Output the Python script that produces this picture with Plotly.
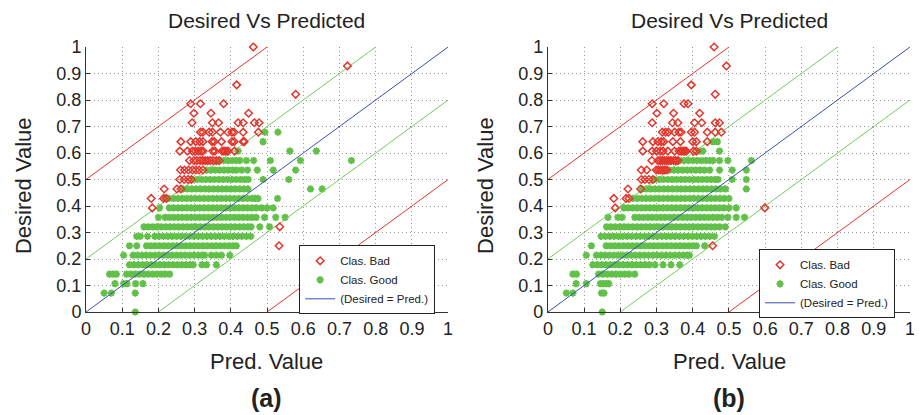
import plotly.graph_objects as go

# ---------------- data ----------------
# Desired-value levels (rows) used by both panels
levels = {0: 0.0, 2: 0.0714, 3: 0.1071, 4: 0.1429, 5: 0.1786, 6: 0.2143, 7: 0.25,
          8: 0.2857, 9: 0.3214, 10: 0.3571, 11: 0.3929, 12: 0.4286, 13: 0.4643,
          14: 0.5, 15: 0.5357, 16: 0.5714, 17: 0.6071, 18: 0.6429, 19: 0.6786,
          20: 0.7143, 21: 0.75, 22: 0.7857, 23: 0.8214, 24: 0.8571, 26: 0.9286, 28: 1.0}

# Panel (a) – "Clas. Good" predicted values, per desired level
a_good_k = [0, 2, 3, 4, 5, 6, 7, 8, 9, 10, 11, 12, 13, 14, 15, 16, 17, 18, 19]
a_good_x = [
    [0.136],
    [0.05, 0.07, 0.136],
    [0.08, 0.104, 0.113, 0.137, 0.157],
    [0.065, 0.075, 0.084, 0.112, 0.124, 0.136, 0.148, 0.16, 0.172, 0.184, 0.196, 0.208, 0.218, 0.231],
    [0.12, 0.132, 0.144, 0.156, 0.168, 0.18, 0.192, 0.204, 0.216, 0.228, 0.24, 0.252, 0.264, 0.276, 0.287, 0.296, 0.32, 0.333, 0.36],
    [0.104, 0.13, 0.142, 0.154, 0.166, 0.178, 0.19, 0.202, 0.214, 0.226, 0.238, 0.25, 0.262, 0.274, 0.286, 0.298, 0.31, 0.32, 0.328, 0.346, 0.36, 0.374, 0.397],
    [0.12, 0.14, 0.167, 0.179, 0.191, 0.203, 0.215, 0.227, 0.239, 0.251, 0.263, 0.275, 0.287, 0.299, 0.311, 0.323, 0.335, 0.347, 0.359, 0.371, 0.383, 0.395, 0.405, 0.415],
    [0.14, 0.15, 0.17, 0.19, 0.202, 0.214, 0.226, 0.238, 0.25, 0.262, 0.274, 0.286, 0.298, 0.31, 0.322, 0.334, 0.346, 0.358, 0.37, 0.382, 0.394, 0.406, 0.418, 0.43, 0.443, 0.455],
    [0.16, 0.172, 0.184, 0.196, 0.208, 0.22, 0.232, 0.244, 0.256, 0.268, 0.28, 0.292, 0.304, 0.316, 0.328, 0.34, 0.352, 0.364, 0.376, 0.388, 0.4, 0.412, 0.424, 0.436, 0.447, 0.456, 0.48, 0.507],
    [0.2, 0.218, 0.23, 0.242, 0.254, 0.266, 0.278, 0.29, 0.302, 0.314, 0.326, 0.338, 0.35, 0.362, 0.374, 0.386, 0.398, 0.41, 0.422, 0.434, 0.446, 0.458, 0.47, 0.493, 0.524, 0.55],
    [0.203, 0.23, 0.242, 0.254, 0.266, 0.278, 0.29, 0.302, 0.314, 0.326, 0.338, 0.35, 0.362, 0.374, 0.386, 0.398, 0.41, 0.422, 0.434, 0.446, 0.458, 0.47, 0.485, 0.5, 0.517],
    [0.218, 0.23, 0.242, 0.254, 0.266, 0.278, 0.29, 0.302, 0.314, 0.326, 0.338, 0.35, 0.362, 0.374, 0.386, 0.398, 0.41, 0.422, 0.434, 0.446, 0.458, 0.467, 0.475, 0.529],
    [0.268, 0.28, 0.292, 0.304, 0.316, 0.328, 0.34, 0.352, 0.364, 0.376, 0.388, 0.4, 0.412, 0.424, 0.436, 0.447, 0.62, 0.652],
    [0.295, 0.307, 0.319, 0.331, 0.343, 0.355, 0.367, 0.379, 0.391, 0.403, 0.415, 0.427, 0.438, 0.448, 0.489, 0.56],
    [0.333, 0.345, 0.357, 0.369, 0.381, 0.393, 0.405, 0.415, 0.43, 0.446, 0.473, 0.517, 0.579],
    [0.368, 0.38, 0.392, 0.404, 0.415, 0.425, 0.443, 0.463, 0.509, 0.592, 0.733],
    [0.42, 0.563, 0.636],
    [0.489],
    [0.494, 0.53],
]

# Panel (a) – "Clas. Bad"
a_bad_k = [7, 9, 11, 12, 13, 14, 15, 16, 17, 18, 19, 20, 21, 22, 23, 24, 26, 28]
a_bad_x = [
    [0.533],
    [0.535],
    [0.183],
    [0.18, 0.214, 0.222],
    [0.216, 0.251, 0.262],
    [0.259, 0.271, 0.282, 0.291],
    [0.261, 0.272, 0.283, 0.294, 0.303, 0.312, 0.323],
    [0.286, 0.298, 0.306, 0.315, 0.322, 0.329, 0.336, 0.343, 0.351, 0.36, 0.368],
    [0.259, 0.28, 0.294, 0.302, 0.31, 0.318, 0.323, 0.35, 0.356, 0.376, 0.381, 0.386, 0.392, 0.41],
    [0.262, 0.289, 0.303, 0.314, 0.323, 0.348, 0.354, 0.374, 0.403, 0.409, 0.434, 0.437],
    [0.316, 0.323, 0.34, 0.349, 0.371, 0.392, 0.403, 0.409, 0.434, 0.476],
    [0.293, 0.349, 0.366, 0.42, 0.434, 0.465, 0.478],
    [0.298, 0.345, 0.449],
    [0.289, 0.316, 0.38],
    [0.579],
    [0.416],
    [0.722],
    [0.462],
]

# Panel (b) – "Clas. Good"
b_good_k = [0, 2, 3, 4, 5, 6, 7, 8, 9, 10, 11, 12, 13, 14, 15, 16, 17, 18]
b_good_x = [
    [0.15],
    [0.051, 0.069, 0.148, 0.155],
    [0.078, 0.106, 0.145, 0.153, 0.161, 0.168],
    [0.069, 0.079, 0.14, 0.152, 0.164, 0.176, 0.188, 0.2, 0.212, 0.224, 0.24],
    [0.124, 0.136, 0.148, 0.16, 0.172, 0.184, 0.196, 0.208, 0.22, 0.232, 0.244, 0.256, 0.268, 0.28, 0.296, 0.318, 0.34, 0.364],
    [0.106, 0.134, 0.146, 0.158, 0.17, 0.182, 0.194, 0.206, 0.218, 0.23, 0.242, 0.254, 0.266, 0.278, 0.29, 0.302, 0.314, 0.326, 0.338, 0.35, 0.362, 0.374, 0.384, 0.391],
    [0.12, 0.161, 0.173, 0.185, 0.197, 0.209, 0.221, 0.233, 0.245, 0.257, 0.269, 0.281, 0.293, 0.305, 0.317, 0.329, 0.341, 0.353, 0.365, 0.377, 0.389, 0.4, 0.41, 0.433],
    [0.147, 0.159, 0.171, 0.183, 0.195, 0.207, 0.219, 0.231, 0.243, 0.255, 0.267, 0.279, 0.291, 0.303, 0.315, 0.327, 0.339, 0.351, 0.363, 0.375, 0.387, 0.399, 0.411, 0.423, 0.435, 0.447, 0.46],
    [0.162, 0.174, 0.186, 0.198, 0.21, 0.222, 0.234, 0.246, 0.258, 0.27, 0.282, 0.294, 0.306, 0.318, 0.33, 0.342, 0.354, 0.366, 0.378, 0.39, 0.402, 0.414, 0.426, 0.438, 0.45, 0.462, 0.474, 0.49],
    [0.166, 0.193, 0.205, 0.24, 0.252, 0.264, 0.276, 0.288, 0.3, 0.312, 0.324, 0.336, 0.348, 0.36, 0.372, 0.384, 0.396, 0.408, 0.42, 0.432, 0.444, 0.456, 0.468, 0.48, 0.497, 0.52, 0.543],
    [0.21, 0.222, 0.234, 0.246, 0.258, 0.27, 0.282, 0.294, 0.306, 0.318, 0.33, 0.342, 0.354, 0.366, 0.378, 0.39, 0.402, 0.414, 0.426, 0.438, 0.45, 0.462, 0.474, 0.486, 0.5, 0.52],
    [0.235, 0.247, 0.259, 0.271, 0.283, 0.295, 0.307, 0.319, 0.331, 0.343, 0.355, 0.367, 0.379, 0.391, 0.403, 0.415, 0.427, 0.439, 0.451, 0.463, 0.475, 0.487, 0.5],
    [0.26, 0.272, 0.284, 0.296, 0.308, 0.32, 0.332, 0.344, 0.356, 0.368, 0.38, 0.392, 0.404, 0.416, 0.428, 0.44, 0.452, 0.464, 0.476, 0.49, 0.548],
    [0.295, 0.307, 0.319, 0.331, 0.343, 0.355, 0.367, 0.379, 0.391, 0.403, 0.415, 0.427, 0.439, 0.451, 0.462, 0.47, 0.509, 0.548],
    [0.336, 0.348, 0.36, 0.372, 0.384, 0.396, 0.408, 0.42, 0.432, 0.447, 0.474, 0.509, 0.548],
    [0.364, 0.376, 0.388, 0.4, 0.412, 0.424, 0.436, 0.447, 0.456, 0.474, 0.497, 0.562],
    [0.419, 0.428, 0.474],
    [0.456, 0.468],
]

# Panel (b) – "Clas. Bad"
b_bad_k = [7, 11, 12, 13, 14, 15, 16, 17, 18, 19, 20, 21, 22, 23, 24, 26, 28]
b_bad_x = [
    [0.455],
    [0.186, 0.599],
    [0.182, 0.216, 0.224],
    [0.221, 0.256],
    [0.258, 0.268, 0.279, 0.29],
    [0.258, 0.273, 0.299, 0.305, 0.311, 0.317, 0.323, 0.329],
    [0.287, 0.304, 0.31, 0.316, 0.322, 0.328, 0.334, 0.34, 0.347, 0.353, 0.359],
    [0.262, 0.288, 0.3, 0.31, 0.318, 0.331, 0.35, 0.362, 0.368, 0.373, 0.378, 0.382, 0.402, 0.41],
    [0.262, 0.29, 0.304, 0.313, 0.32, 0.345, 0.366, 0.4, 0.41, 0.44],
    [0.316, 0.325, 0.333, 0.35, 0.362, 0.368, 0.396, 0.405, 0.44, 0.462, 0.479],
    [0.288, 0.344, 0.359, 0.405, 0.425, 0.462, 0.474],
    [0.301, 0.347, 0.419],
    [0.288, 0.32, 0.376, 0.387],
    [0.462],
    [0.396],
    [0.493],
    [0.459],
]

# Reference lines: Desired = Pred. + offset
identity_offset = 0.0
green_offsets = [0.2, -0.2]
red_offsets = [0.5, -0.5]

tick_vals = [0, 0.1, 0.2, 0.3, 0.4, 0.5, 0.6, 0.7, 0.8, 0.9, 1]
tick_text = ["0", "0.1", "0.2", "0.3", "0.4", "0.5", "0.6", "0.7", "0.8", "0.9", "1"]

# ---------------- styles ----------------
RED = "#e3352b"
GREEN = "#60c048"
GREEN_LINE = "#72cc5c"
BLUE = "#3a4fb0"
FONT = "Liberation Sans, Arial, Helvetica, sans-serif"


def flatten(ks, xs):
    X, Y = [], []
    for k, row in zip(ks, xs):
        for v in row:
            X.append(v)
            Y.append(levels[k])
    return X, Y


def diag(c):
    x0, x1 = max(0.0, -c), min(1.0, 1.0 - c)
    return [x0, x1], [x0 + c, x1 + c]


fig = go.Figure()

panels = [
    ("x", "y", "legend", a_good_k, a_good_x, a_bad_k, a_bad_x),
    ("x2", "y2", "legend2", b_good_k, b_good_x, b_bad_k, b_bad_x),
]

for xa, ya, leg, gk, gx, bk, bx in panels:
    X, Y = flatten(gk, gx)
    fig.add_trace(go.Scatter(x=X, y=Y, mode="markers", name="Clas. Good", legend=leg,
                             xaxis=xa, yaxis=ya, legendrank=2, cliponaxis=False,
                             marker=dict(symbol="asterisk-open", size=6, color=GREEN,
                                         line=dict(color=GREEN, width=2))))
    for c in green_offsets:
        lx, ly = diag(c)
        fig.add_trace(go.Scatter(x=lx, y=ly, mode="lines", showlegend=False, xaxis=xa, yaxis=ya,
                                 line=dict(color=GREEN_LINE, width=1)))
    for c in red_offsets:
        lx, ly = diag(c)
        fig.add_trace(go.Scatter(x=lx, y=ly, mode="lines", showlegend=False, xaxis=xa, yaxis=ya,
                                 line=dict(color=RED, width=1)))
    lx, ly = diag(identity_offset)
    fig.add_trace(go.Scatter(x=lx, y=ly, mode="lines", name="(Desired = Pred.)", legend=leg,
                             xaxis=xa, yaxis=ya, legendrank=3,
                             line=dict(color=BLUE, width=1)))
    X, Y = flatten(bk, bx)
    fig.add_trace(go.Scatter(x=X, y=Y, mode="markers", name="Clas. Bad", legend=leg,
                             xaxis=xa, yaxis=ya, legendrank=1, cliponaxis=False,
                             marker=dict(symbol="diamond-open", size=5.8, color=RED,
                                         line=dict(color=RED, width=1.5))))

axis_common = dict(range=[0, 1], tickvals=tick_vals, ticktext=tick_text,
                   showgrid=True, gridcolor="#9a9a9a", griddash="1px,3px", gridwidth=1,
                   showline=True, linecolor="#333", linewidth=1, zeroline=False,
                   ticks="inside", ticklen=4, tickcolor="#333",
                   tickfont=dict(family=FONT, size=18, color="#222"), fixedrange=True)

# page body has an 8px margin, so the figure is drawn 8px in from the window corner
OFF = 8
W, H = 922 - OFF, 415 - OFF
L = 86.3 - OFF
T = 46.7 - OFF
B = H - (311.7 - OFF)
R = W - (910.5 - OFF)
pw = W - L - R
ph = H - T - B
dom_a = [0, 362.2 / pw]
dom_b = [(548.3 - 86.3) / pw, 1]


def px(xp):
    return (xp - 86.3) / pw


def py(yp):
    return (311.7 - yp) / ph


fig.update_layout(
    width=W, height=H, margin=dict(l=L, r=R, t=T, b=B, autoexpand=False),
    paper_bgcolor="white", plot_bgcolor="white",
    font=dict(family=FONT, color="#222"),
    xaxis=dict(domain=dom_a, anchor="y", **axis_common),
    yaxis=dict(domain=[0, 1], anchor="x", **axis_common),
    xaxis2=dict(domain=dom_b, anchor="y2", **axis_common),
    yaxis2=dict(domain=[0, 1], anchor="x2", **axis_common),
    legend=dict(x=px(299.5), y=py(245), xanchor="left", yanchor="top",
                bgcolor="white", bordercolor="#222", borderwidth=1,
                font=dict(family=FONT, size=11.5, color="#222"), tracegroupgap=0),
    legend2=dict(x=px(759.5), y=py(249), xanchor="left", yanchor="top",
                 bgcolor="white", bordercolor="#222", borderwidth=1,
                 font=dict(family=FONT, size=11.5, color="#222"), tracegroupgap=0),
    showlegend=True,
)

ann = []
for cx, lab in [(267.3, "(a)"), (729.5, "(b)")]:
    ann.append(dict(x=px(cx), y=py(20), text="Desired Vs Predicted",
                    font=dict(family=FONT, size=21, color="#222")))
    ann.append(dict(x=px(cx), y=py(361), text="Pred. Value",
                    font=dict(family=FONT, size=22, color="#222")))
    ann.append(dict(x=px(cx), y=py(398), text="<b>" + lab + "</b>",
                    font=dict(family=FONT, size=25, color="#222")))
for cx in [24, 486]:
    ann.append(dict(x=px(cx), y=py(185), text="Desired Value", textangle=-90,
                    font=dict(family=FONT, size=22, color="#222")))
for a in ann:
    a.update(xref="paper", yref="paper", showarrow=False, xanchor="center", yanchor="middle")
fig.update_layout(annotations=ann)

fig.write_html("out.html")
